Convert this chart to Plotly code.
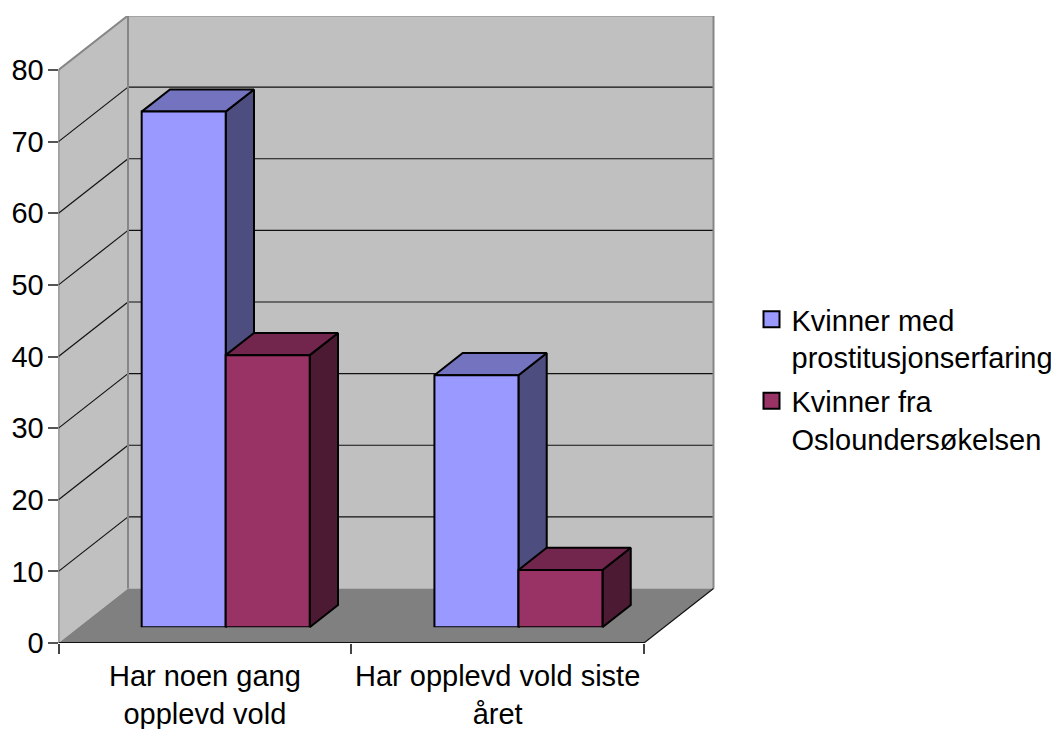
import plotly.graph_objects as go

categories = ["Har noen gang<br>opplevd vold", "Har opplevd vold siste<br>året"]
series_names = ["Kvinner med<br>prostitusjonserfaring", "Kvinner fra<br>Osloundersøkelsen"]
values_a = [72, 35.2]
values_b = [38, 8]
y_ticks = [0, 10, 20, 30, 40, 50, 60, 70, 80]

FRONT = ["#9999FF", "#993366"]
TOP = ["#7373BF", "#73264D"]
SIDE = ["#4D4D80", "#4D1A33"]
FONT = "Liberation Sans"
FS = 29

# the page body has an 8px margin, so the figure starts at (8, 8) of the window
PAGE = 8
W, H = 1059 - PAGE, 729 - PAGE
# pixel frame of the pseudo-3D box (figure coordinates)
X0, X_FRONT, X_BACK = 58.5 - PAGE, 644.0 - PAGE, 715.0 - PAGE
Y0, Y80, Y_BACK_TOP = 643.0 - PAGE, 70.0 - PAGE, 16.0 - PAGE
CAT_PX = (X_FRONT - X0) / 2
VAL_PX = (Y0 - Y80) / 80
DX = 69.5 / CAT_PX            # depth vector in data units
DY = 54.5 / VAL_PX
BAR_D0, BAR_D1 = 0.288, 0.695  # depth span of bars
BARGAP = 0.426
GROUP = 1 - BARGAP
BAR_NUDGE_PX = 0.8
BAR_NUDGE = BAR_NUDGE_PX / CAT_PX


def proj(x, y, d=0.0):
    return x + d * DX, y + d * DY


def poly(pts, fill, line_color=None, line_width=0):
    xs = [p[0] for p in pts] + [pts[0][0]]
    ys = [p[1] for p in pts] + [pts[0][1]]
    return go.Scatter(x=xs, y=ys, mode="lines", fill="toself", fillcolor=fill,
                      line=dict(color=line_color or fill, width=line_width),
                      showlegend=False, hoverinfo="skip", xaxis="x", yaxis="y")


def seg(segments, color, width):
    xs, ys = [], []
    for a, b in segments:
        xs += [a[0], b[0], None]
        ys += [a[1], b[1], None]
    return go.Scatter(x=xs, y=ys, mode="lines", line=dict(color=color, width=width),
                      showlegend=False, hoverinfo="skip", xaxis="x", yaxis="y")


L, R = -0.5, 1.5
TOPV = y_ticks[-1]
fig = go.Figure()

# walls and floor
fig.add_trace(poly([proj(L, 0, 1), proj(R, 0, 1), proj(R, TOPV, 1), proj(L, TOPV, 1)], "#C0C0C0"))
fig.add_trace(poly([proj(L, 0), proj(L, 0, 1), proj(L, TOPV, 1), proj(L, TOPV)], "#C0C0C0"))
fig.add_trace(poly([proj(L, 0), proj(R, 0), proj(R, 0, 1), proj(L, 0, 1)], "#808080"))

# grid lines
levels = y_ticks[1:-1]
fig.add_trace(seg([(proj(L, v), proj(L, v, 1)) for v in levels]
                  + [(proj(L, v, 1), proj(R, v, 1)) for v in levels], "#111111", 1.2))
# wall outline
fig.add_trace(seg([(proj(L, TOPV), proj(L, TOPV, 1)), (proj(L, TOPV, 1), proj(R, TOPV, 1)),
                   (proj(R, TOPV, 1), proj(R, 0, 1)), (proj(L, TOPV, 1), proj(L, 0, 1))], "#868686", 2))
# axis lines
fig.add_trace(seg([(proj(L, 0), proj(L, TOPV))], "#555555", 1.5))
fig.add_trace(seg([(proj(R, 0), proj(R, 0, 1))], "#111111", 1.2))
fig.add_trace(seg([(proj(L, 0), proj(R, 0))], "#111111", 2))

# depth faces of the bars, drawn behind the front faces
for s, vals in enumerate([values_a, values_b]):
    for i, v in enumerate(vals):
        x1 = i - GROUP / 2 + s * GROUP / 2 + BAR_NUDGE
        x2 = x1 + GROUP / 2
        fig.add_trace(poly([proj(x2, 0, BAR_D0), proj(x2, 0, BAR_D1), proj(x2, v, BAR_D1), proj(x2, v, BAR_D0)],
                           SIDE[s], "#000000", 2))
        fig.add_trace(poly([proj(x1, v, BAR_D0), proj(x2, v, BAR_D0), proj(x2, v, BAR_D1), proj(x1, v, BAR_D1)],
                           TOP[s], "#000000", 2))

# front faces
for s, vals in enumerate([values_a, values_b]):
    fig.add_trace(go.Bar(x=categories, y=vals, name=series_names[s].replace("<br>", " "),
                         marker=dict(color=FRONT[s], line=dict(color="#000000", width=2)),
                         showlegend=False, cliponaxis=False, xaxis="x2", yaxis="y2"))

# legend entries
for s in range(2):
    fig.add_trace(go.Scatter(x=[None], y=[None], mode="markers", name=series_names[s],
                             legendgroup=f"series{s}",
                             marker=dict(symbol="square", size=16, color=FRONT[s],
                                         line=dict(color="#000000", width=2)),
                             xaxis="x", yaxis="y"))

bar_dx = BAR_D0 * DX * CAT_PX + BAR_NUDGE_PX
bar_dy = BAR_D0 * DY * VAL_PX

fig.update_layout(
    width=W, height=H, margin=dict(l=0, r=0, t=0, b=0, pad=0), autosize=False,
    paper_bgcolor="#FFFFFF", plot_bgcolor="rgba(0,0,0,0)",
    font=dict(family=FONT, size=FS, color="#000000"),
    barmode="group", bargap=BARGAP, bargroupgap=0,
    xaxis=dict(domain=[X0 / W, X_BACK / W], range=[L, L + (X_BACK - X0) / CAT_PX],
               tickmode="array", tickvals=[0, 1], ticktext=categories, tickangle=0,
               ticks="outside", ticklen=0, ticklabelstandoff=7,
               showgrid=False, zeroline=False, showline=False, automargin=False,
               minor=dict(tickmode="array", tickvals=[L, 0.5, R], ticks="outside", ticklen=10,
                          tickcolor="#444444", tickwidth=1.5, showgrid=False),
               anchor="y", fixedrange=True),
    yaxis=dict(domain=[(H - Y0) / H, (H - Y_BACK_TOP) / H], range=[0, (Y0 - Y_BACK_TOP) / VAL_PX],
               tickmode="array", tickvals=y_ticks, ticks="outside", ticklen=10, tickwidth=1.5,
               ticklabelstandoff=-2,
               tickcolor="#555555", showgrid=False, zeroline=False, showline=False,
               automargin=False, anchor="x", fixedrange=True),
    xaxis2=dict(domain=[(X0 + bar_dx) / W, (X_FRONT + bar_dx) / W], range=[L, R], type="category",
                categoryorder="array", categoryarray=categories, visible=False,
                automargin=False, anchor="y2", fixedrange=True),
    yaxis2=dict(domain=[(H - Y0 + bar_dy) / H, (H - Y80 + bar_dy) / H], range=[0, TOPV], visible=False,
                automargin=False, anchor="x2", fixedrange=True),
    showlegend=True,
    legend=dict(x=743.5 / W, y=(H - (294 - PAGE)) / H, xanchor="left", yanchor="top", valign="top",
                bgcolor="rgba(0,0,0,0)", borderwidth=0, itemwidth=30, tracegroupgap=3,
                groupclick="toggleitem", font=dict(family=FONT, size=FS)),
)

fig.write_html("out.html")
